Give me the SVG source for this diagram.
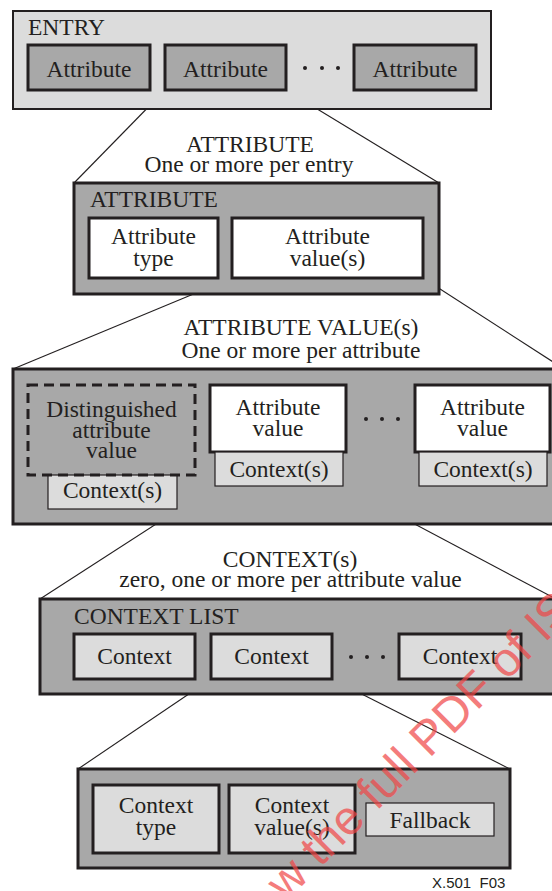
<svg xmlns="http://www.w3.org/2000/svg" width="552" height="891" viewBox="0 0 552 891">
<style>
text{font-family:"Liberation Serif","Times New Roman",serif;font-size:23.5px;fill:#231f20}
.c{text-anchor:middle}
.lt{fill:#dcdcdc}
.md{fill:#a8a8a8}
.wh{fill:#ffffff}
.k2{stroke:#231f20;stroke-width:2}
.k3{stroke:#231f20;stroke-width:3}
.k1{stroke:#231f20;stroke-width:1.2}
.dash{fill:none;stroke:#231f20;stroke-width:3;stroke-dasharray:10 6}
.dot{fill:#231f20}
#connectors line{stroke:#231f20;stroke-width:1.1}
.fig{font-family:"Liberation Sans",Arial,sans-serif;font-size:15px;white-space:pre}
.wm{font-family:"Liberation Sans",Arial,sans-serif;font-size:48px;fill:#f04646;opacity:0.7}
</style>
<rect width="552" height="891" fill="#ffffff"/>

<g id="connectors">
<line x1="165" y1="90" x2="74" y2="183"/>
<line x1="286" y1="90" x2="439" y2="183"/>
<line x1="232" y1="278" x2="13" y2="369"/>
<line x1="423" y1="278" x2="564" y2="369"/>
<line x1="215" y1="486" x2="40" y2="599"/>
<line x1="343" y1="486" x2="556" y2="599"/>
<line x1="211" y1="679" x2="78" y2="769"/>
<line x1="332" y1="679" x2="510" y2="769"/>
</g>

<g id="entry">
<rect x="13" y="11" width="478" height="98" class="lt k2"/>
<text x="28" y="35">ENTRY</text>
</g>
<g id="entry-attr1">
<rect x="28" y="45" width="122" height="45" class="md k3"/>
<text x="89" y="77" class="c">Attribute</text>
</g>
<g id="entry-attr2">
<rect x="165" y="45" width="121" height="45" class="md k3"/>
<text x="225.5" y="77" class="c">Attribute</text>
</g>
<g id="entry-dots">
<circle cx="305" cy="68" r="2" class="dot"/><circle cx="322" cy="68" r="2" class="dot"/><circle cx="338" cy="68" r="2" class="dot"/>
</g>
<g id="entry-attr3">
<rect x="354" y="45" width="122" height="45" class="md k3"/>
<text x="415" y="77" class="c">Attribute</text>
</g>

<g id="attribute-heading">
<text x="250" y="152" class="c">ATTRIBUTE</text>
<text x="249" y="172" class="c">One or more per entry</text>
</g>
<g id="attribute">
<rect x="74" y="183" width="365" height="111" class="md k3"/>
<text x="90" y="207">ATTRIBUTE</text>
</g>
<g id="attribute-type">
<rect x="89" y="218" width="129" height="60" class="wh k3"/>
<text x="153.5" y="244" class="c">Attribute</text>
<text x="153.5" y="266" class="c">type</text>
</g>
<g id="attribute-values">
<rect x="232" y="218" width="191" height="60" class="wh k3"/>
<text x="327.5" y="244" class="c">Attribute</text>
<text x="327.5" y="266" class="c">value(s)</text>
</g>

<g id="values-heading">
<text x="301" y="335" class="c">ATTRIBUTE VALUE(s)</text>
<text x="301" y="358" class="c">One or more per attribute</text>
</g>
<g id="values">
<rect x="13" y="369" width="551" height="155" class="md k3"/>
</g>
<g id="distinguished">
<rect x="48" y="475" width="129" height="34" class="lt k1"/>
<rect x="28" y="385" width="167" height="90" class="dash"/>
<text x="111.5" y="417" class="c">Distinguished</text>
<text x="111.5" y="437.5" class="c">attribute</text>
<text x="111.5" y="458" class="c">value</text>
<text x="112.5" y="498" class="c">Context(s)</text>
</g>
<g id="value1">
<rect x="210" y="385" width="136" height="67" class="wh k3"/>
<text x="278" y="415" class="c">Attribute</text>
<text x="278" y="436" class="c">value</text>
<rect x="215" y="452" width="128" height="34" class="lt k1"/>
<text x="279" y="477" class="c">Context(s)</text>
</g>
<g id="value-dots">
<circle cx="366" cy="419" r="2" class="dot"/><circle cx="382" cy="419" r="2" class="dot"/><circle cx="398" cy="419" r="2" class="dot"/>
</g>
<g id="value2">
<rect x="415" y="385" width="135" height="67" class="wh k3"/>
<text x="482.5" y="415" class="c">Attribute</text>
<text x="482.5" y="436" class="c">value</text>
<rect x="419" y="452" width="128" height="34" class="lt k1"/>
<text x="483" y="477" class="c">Context(s)</text>
</g>

<g id="context-heading">
<text x="290" y="567" class="c">CONTEXT(s)</text>
<text x="290.5" y="587" class="c">zero, one or more per attribute value</text>
</g>
<g id="context-list">
<rect x="40" y="599" width="516" height="95" class="md k3"/>
<text x="74" y="624">CONTEXT LIST</text>
</g>
<g id="context1">
<rect x="74" y="634" width="121" height="45" class="lt k3"/>
<text x="134.5" y="664" class="c">Context</text>
</g>
<g id="context2">
<rect x="211" y="634" width="121" height="45" class="lt k3"/>
<text x="271.5" y="664" class="c">Context</text>
</g>
<g id="context-dots">
<circle cx="351" cy="657" r="2" class="dot"/><circle cx="367" cy="657" r="2" class="dot"/><circle cx="383" cy="657" r="2" class="dot"/>
</g>
<g id="context3">
<rect x="399" y="634" width="122" height="45" class="lt k3"/>
<text x="460" y="664" class="c">Context</text>
</g>

<g id="context-detail">
<rect x="78" y="769" width="432" height="99" class="md k3"/>
</g>
<g id="context-type">
<rect x="93" y="785" width="126" height="68" class="lt k3"/>
<text x="156" y="813" class="c">Context</text>
<text x="156" y="835" class="c">type</text>
</g>
<g id="context-values">
<rect x="229" y="785" width="126" height="68" class="lt k3"/>
<text x="292" y="813" class="c">Context</text>
<text x="292" y="835" class="c">value(s)</text>
</g>
<g id="fallback">
<rect x="366" y="803" width="128" height="33" class="lt k1"/>
<text x="430" y="828" class="c">Fallback</text>
</g>

<text x="432" y="888" class="fig">X.501  F03</text>

<text transform="translate(286,902) rotate(-45)" class="wm">w the full PDF of IS</text>
</svg>
